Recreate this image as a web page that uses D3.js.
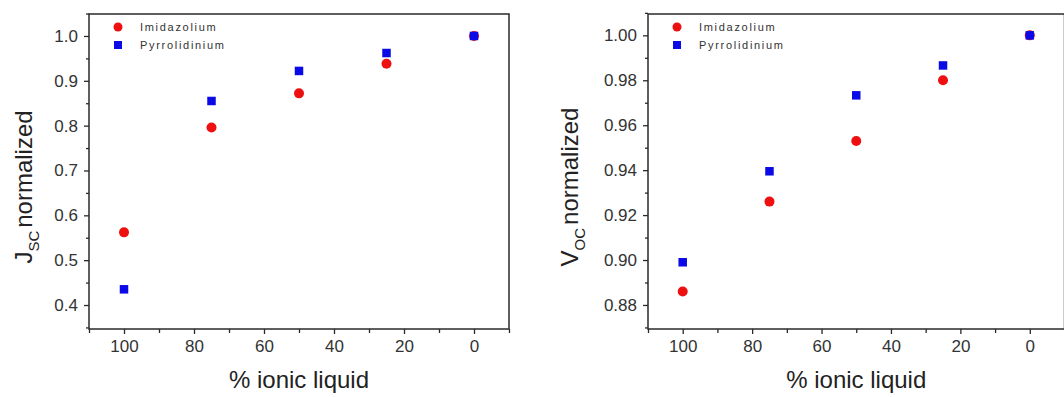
<!DOCTYPE html>
<html><head><meta charset="utf-8">
<script src="https://cdn.jsdelivr.net/npm/d3@7"></script>
<style>
html,body{margin:0;padding:0;background:#fff;}
svg{display:block;}
</style></head>
<body>
<svg id="c" width="1064" height="397"></svg>
<script>
const ionicPercent = [100, 75, 50, 25, 0];
const jscImidazolium = [0.562, 0.796, 0.872, 0.938, 1.0];
const jscPyrrolidinium = [0.435, 0.855, 0.922, 0.962, 1.0];
const vocImidazolium = [0.886, 0.926, 0.953, 0.980, 1.0];
const vocPyrrolidinium = [0.899, 0.9395, 0.9733, 0.9866, 1.0];
const seriesNames = ["Imidazolium", "Pyrrolidinium"];
const xTicks = [100, 80, 60, 40, 20, 0];
const jscTicks = [0.4, 0.5, 0.6, 0.7, 0.8, 0.9, 1.0];
const vocTicks = [0.88, 0.90, 0.92, 0.94, 0.96, 0.98, 1.00];

const svg = d3.select("#c");
const FONT = "'Liberation Sans', Arial, sans-serif";
const RED = "#ee1010", BLUE = "#0a0ae6", AX = "#2a2a2a";

function panel(opt) {
  const g = svg.append("g");
  const x = d3.scaleLinear().domain([110, -10]).range([opt.left, opt.right]);
  const y = d3.scaleLinear().domain(opt.yDomain).range([opt.bottom, opt.top]);

  // minor ticks
  const xMinor = d3.range(-10, 111, 10).filter(v => !xTicks.includes(v));
  g.append("g").attr("transform", `translate(0,${opt.bottom})`)
    .call(d3.axisBottom(x).tickValues(xMinor).tickSize(4).tickFormat(""))
    .call(a => a.select(".domain").remove())
    .selectAll("line").attr("stroke", AX).attr("stroke-width", 1.3);
  const yMinor = opt.yMinor.filter(v => !opt.yTicks.some(t => Math.abs(t - v) < 1e-9));
  g.append("g").attr("transform", `translate(${opt.left},0)`)
    .call(d3.axisLeft(y).tickValues(yMinor).tickSize(3).tickFormat(""))
    .call(a => a.select(".domain").remove())
    .selectAll("line").attr("stroke", AX).attr("stroke-width", 1.3);

  // major ticks
  const xa = g.append("g").attr("transform", `translate(0,${opt.bottom})`)
    .call(d3.axisBottom(x).tickValues(xTicks).tickSize(5).tickPadding(6).tickFormat(d3.format("d")));
  xa.select(".domain").remove();
  xa.selectAll("line").attr("stroke", AX).attr("stroke-width", 1.3);
  xa.selectAll("text").attr("font-family", FONT).attr("font-size", 17).attr("fill", "#333");

  const ya = g.append("g").attr("transform", `translate(${opt.left},0)`)
    .call(d3.axisLeft(y).tickValues(opt.yTicks).tickSize(5).tickPadding(6).tickFormat(d3.format(opt.yFmt)));
  ya.select(".domain").remove();
  ya.selectAll("line").attr("stroke", AX).attr("stroke-width", 1.3);
  ya.selectAll("text").attr("font-family", FONT).attr("font-size", 17).attr("fill", "#333");

  // frame
  g.append("rect").attr("x", opt.left).attr("y", opt.top)
    .attr("width", opt.right - opt.left).attr("height", opt.bottom - opt.top)
    .attr("fill", "none").attr("stroke", AX).attr("stroke-width", 1.5);

  // data
  const d1 = ionicPercent.map((p, i) => ({p, v: opt.s1[i]}));
  const d2 = ionicPercent.map((p, i) => ({p, v: opt.s2[i]}));
  g.selectAll(".c").data(d1).join("circle")
    .attr("cx", d => x(d.p)).attr("cy", d => y(d.v)).attr("r", 5).attr("fill", RED);
  const s = 8.5;
  g.selectAll(".s").data(d2).join("rect")
    .attr("x", d => x(d.p) - s / 2).attr("y", d => y(d.v) - s / 2)
    .attr("width", s).attr("height", s).attr("fill", BLUE);

  // legend
  const lx = opt.left + 29, ly = 27;
  g.append("circle").attr("cx", lx).attr("cy", ly).attr("r", 4.5).attr("fill", RED);
  g.append("rect").attr("x", lx - 4).attr("y", ly + 18 - 4).attr("width", 8).attr("height", 8).attr("fill", BLUE);
  [seriesNames[0], seriesNames[1]].forEach((n, i) => {
    g.append("text").attr("x", lx + 22).attr("y", ly + 4 + i * 18).text(n)
      .attr("font-family", FONT).attr("font-size", 11).attr("letter-spacing", "1.7px").attr("fill", "#333");
  });

  // x title
  g.append("text").attr("x", (opt.left + opt.right) / 2).attr("y", 388)
    .attr("text-anchor", "middle").attr("font-family", FONT).attr("font-size", 24)
    .attr("fill", "#222").text("% ionic liquid");

  // y title
  const t = g.append("text").attr("transform", `translate(${opt.titleX},187) rotate(-90)`)
    .attr("text-anchor", "middle").attr("font-family", FONT).attr("font-size", 24).attr("fill", "#222");
  t.append("tspan").text(opt.main);
  t.append("tspan").attr("font-size", 15).attr("dy", 7).text(opt.sub);
  t.append("tspan").attr("dy", -7).attr("dx", 3).text("normalized");
}

panel({left: 89, right: 509, top: 14, bottom: 329,
  yDomain: [0.3465, 1.049], yTicks: jscTicks, yMinor: d3.range(0.35, 1.051, 0.05), yFmt: ".1f",
  s1: jscImidazolium, s2: jscPyrrolidinium, titleX: 32, main: "J", sub: "SC"});
panel({left: 648, right: 1064.5, top: 14, bottom: 329,
  yDomain: [0.8693, 1.0095], yTicks: vocTicks, yMinor: d3.range(0.87, 1.0101, 0.01), yFmt: ".2f",
  s1: vocImidazolium, s2: vocPyrrolidinium, titleX: 578, main: "V", sub: "OC"});
</script>
</body></html>
